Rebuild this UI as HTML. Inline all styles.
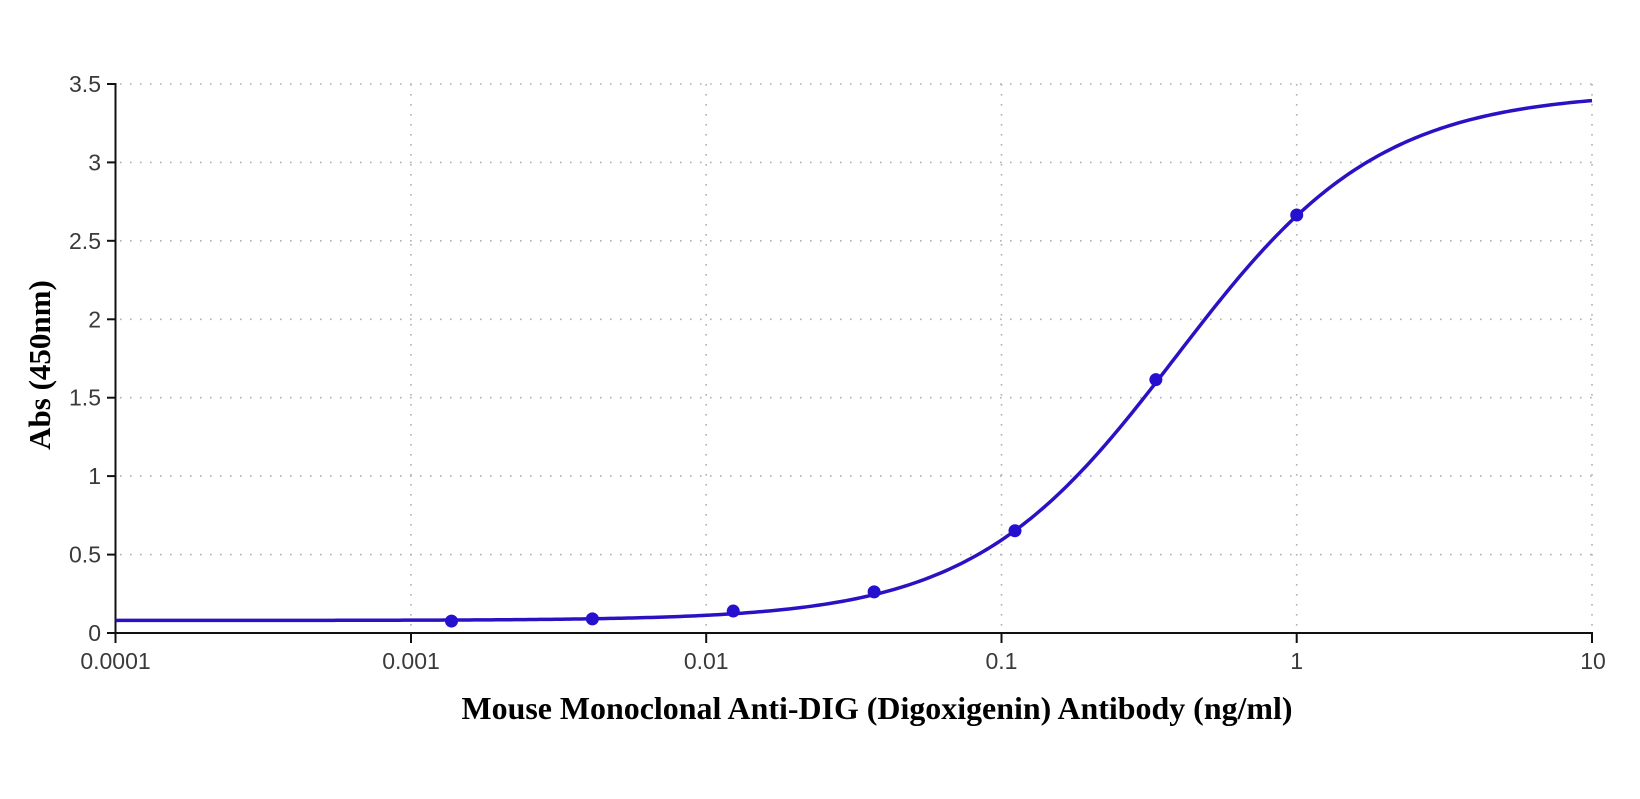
<!DOCTYPE html>
<html><head><meta charset="utf-8"><style>
html,body{margin:0;padding:0;background:#fff;}
svg{display:block;}
</style></head><body>
<svg id="s" width="1640" height="799" viewBox="0 0 1640 799" xmlns="http://www.w3.org/2000/svg">
<rect width="1640" height="799" fill="#fff"/>
<g stroke="#b0b0b0" stroke-width="1.6" stroke-dasharray="1.6 8.4" fill="none">
<line x1="120" y1="84" x2="1592" y2="84"/>
<line x1="120" y1="162.4" x2="1592" y2="162.4"/>
<line x1="120" y1="240.8" x2="1592" y2="240.8"/>
<line x1="120" y1="319.3" x2="1592" y2="319.3"/>
<line x1="120" y1="397.7" x2="1592" y2="397.7"/>
<line x1="120" y1="476.1" x2="1592" y2="476.1"/>
<line x1="120" y1="554.6" x2="1592" y2="554.6"/>
<line x1="411" y1="84" x2="411" y2="630"/>
<line x1="706.2" y1="84" x2="706.2" y2="630"/>
<line x1="1001.5" y1="84" x2="1001.5" y2="630"/>
<line x1="1296.7" y1="84" x2="1296.7" y2="630"/>
<line x1="1592" y1="84" x2="1592" y2="630"/>
</g>
<g stroke="#111" stroke-width="2" fill="none">
<line x1="115.5" y1="83" x2="115.5" y2="634"/>
<line x1="114.5" y1="633" x2="1593" y2="633"/>
<line x1="107" y1="84" x2="116" y2="84"/>
<line x1="107" y1="162.4" x2="116" y2="162.4"/>
<line x1="107" y1="240.8" x2="116" y2="240.8"/>
<line x1="107" y1="319.3" x2="116" y2="319.3"/>
<line x1="107" y1="397.7" x2="116" y2="397.7"/>
<line x1="107" y1="476.1" x2="116" y2="476.1"/>
<line x1="107" y1="554.6" x2="116" y2="554.6"/>
<line x1="107" y1="633" x2="116" y2="633"/>
<line x1="115.5" y1="633" x2="115.5" y2="643"/>
<line x1="411" y1="633" x2="411" y2="643"/>
<line x1="706.2" y1="633" x2="706.2" y2="643"/>
<line x1="1001.5" y1="633" x2="1001.5" y2="643"/>
<line x1="1296.7" y1="633" x2="1296.7" y2="643"/>
<line x1="1592" y1="633" x2="1592" y2="643"/>
</g>
<g font-family="Liberation Sans, sans-serif" font-size="23" fill="#3a3a3a" text-anchor="end">
<text x="101" y="92">3.5</text>
<text x="101" y="170.4">3</text>
<text x="101" y="248.8">2.5</text>
<text x="101" y="327.3">2</text>
<text x="101" y="405.7">1.5</text>
<text x="101" y="484.1">1</text>
<text x="101" y="562.6">0.5</text>
<text x="101" y="641">0</text>
</g>
<g font-family="Liberation Sans, sans-serif" font-size="23" fill="#3a3a3a" text-anchor="middle">
<text x="115.5" y="669">0.0001</text>
<text x="411" y="669">0.001</text>
<text x="706.2" y="669">0.01</text>
<text x="1001.5" y="669">0.1</text>
<text x="1296.7" y="669">1</text>
<text x="1593" y="669">10</text>
</g>
<text x="877" y="719" font-family="Liberation Serif, serif" font-weight="bold" font-size="32" fill="#000" text-anchor="middle" textLength="831" lengthAdjust="spacingAndGlyphs">Mouse Monoclonal Anti-DIG (Digoxigenin) Antibody (ng/ml)</text>
<text transform="translate(50,365) rotate(-90)" font-family="Liberation Serif, serif" font-weight="bold" font-size="31" fill="#000" text-anchor="middle">Abs (450nm)</text>
<path id="curve" d="" stroke="#2a12c4" stroke-width="3.5" fill="none" stroke-linejoin="round"/>
<g id="pts" fill="#2510d0"></g>
</svg>
<script>
(function(){
function X(c){return 115.7+(4+Math.log10(c))*295.26;}
function Y(v){return 633-v*156.86;}
var a=0.08,d=3.45,c0=0.391,b=1.26;
var p=[];
for(var i=0;i<=400;i++){
 var lx=-4+5*i/400; var c=Math.pow(10,lx);
 var v=d+(a-d)/(1+Math.pow(c/c0,b));
 p.push((i?'L':'M')+X(c).toFixed(2)+' '+Y(v).toFixed(2));
}
document.getElementById('curve').setAttribute('d',p.join(' '));
var vals=[[1,2.665],[1/3,1.615],[1/9,0.652],[1/27,0.262],[1/81,0.14],[1/243,0.09],[1/729,0.076]];
var g=document.getElementById('pts'),ns='http://www.w3.org/2000/svg';
vals.forEach(function(q){var e=document.createElementNS(ns,'circle');e.setAttribute('cx',X(q[0]));e.setAttribute('cy',Y(q[1]));e.setAttribute('r',6.5);g.appendChild(e);});
})();
</script>
</body></html>
